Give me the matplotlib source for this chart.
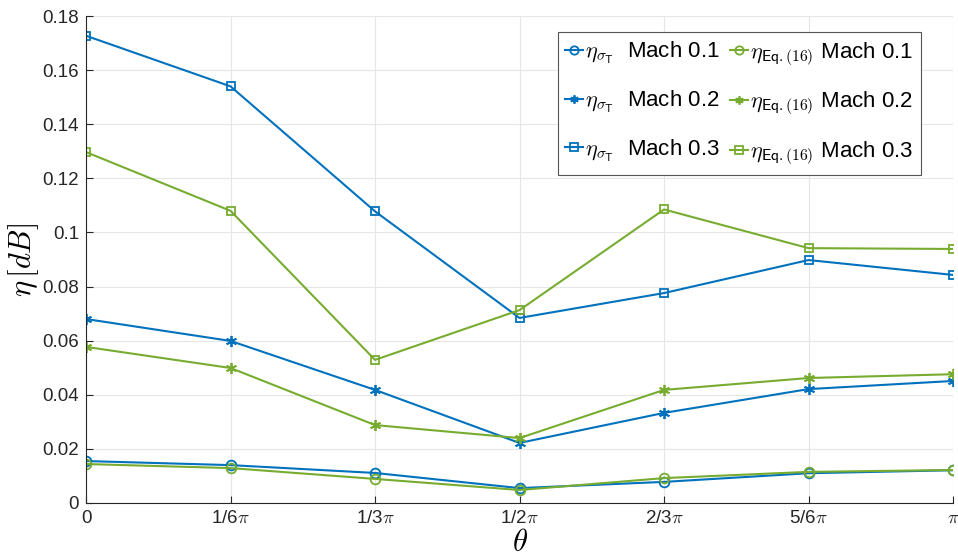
import numpy as np
import matplotlib
matplotlib.use("Agg")
import matplotlib.pyplot as plt

plt.rcParams['font.family'] = ['Liberation Sans', 'DejaVu Sans']
plt.rcParams['mathtext.fontset'] = 'cm'

# x positions in units of pi
theta = [0, 1/6, 1/3, 1/2, 2/3, 5/6, 1]
tick_labels = ['0', '1/6$\\pi$', '1/3$\\pi$', '1/2$\\pi$', '2/3$\\pi$', '5/6$\\pi$', '$\\pi$']

# eta_sigma_T
sig_m01 = [0.0155, 0.0140, 0.0111, 0.0055, 0.0078, 0.0110, 0.0121]
sig_m02 = [0.0680, 0.0599, 0.0418, 0.0222, 0.0333, 0.0421, 0.0451]
sig_m03 = [0.1727, 0.1540, 0.1078, 0.0684, 0.0776, 0.0898, 0.0843]

# eta_Eq.(16)
eq_m01 = [0.0144, 0.0129, 0.0089, 0.0048, 0.0092, 0.0115, 0.0122]
eq_m02 = [0.0577, 0.0499, 0.0288, 0.0240, 0.0418, 0.0462, 0.0476]
eq_m03 = [0.1297, 0.1080, 0.0529, 0.0713, 0.1085, 0.0942, 0.0939]

blue = '#0072BD'
green = '#77AC30'
asterisk = (6, 2, 0)

fig = plt.figure(figsize=(9.58, 5.6), dpi=100)
ax = fig.add_axes([0.0898, 0.1018, 0.905, 0.8696])

lab_s = r'$\eta_{\sigma_{\mathsf{T}}}$'
lab_e = r'$\eta_{\mathsf{Eq.(16)}}$'

ax.plot(theta, sig_m01, '-', marker='o', color=blue, lw=1.5, ms=7, mfc='none', mew=1.3, label=lab_s + '  Mach 0.1')
ax.plot(theta, sig_m02, '-', marker=asterisk, color=blue, lw=1.5, ms=8, mew=1.3, label=lab_s + '  Mach 0.2')
ax.plot(theta, sig_m03, '-', marker='s', color=blue, lw=1.5, ms=6, mfc='none', mew=1.3, label=lab_s + '  Mach 0.3')
ax.plot(theta, eq_m01, '-', marker='o', color=green, lw=1.5, ms=7, mfc='none', mew=1.3, label=lab_e + ' Mach 0.1')
ax.plot(theta, eq_m02, '-', marker=asterisk, color=green, lw=1.5, ms=8, mew=1.3, label=lab_e + ' Mach 0.2')
ax.plot(theta, eq_m03, '-', marker='s', color=green, lw=1.5, ms=6, mfc='none', mew=1.3, label=lab_e + ' Mach 0.3')

ax.set_xlim(0, 1)
ax.set_ylim(0, 0.18)
ax.set_xticks(theta)
ax.set_xticklabels(tick_labels)
ax.set_yticks(np.arange(0, 0.181, 0.02))
ax.set_yticklabels(['0', '0.02', '0.04', '0.06', '0.08', '0.1', '0.12', '0.14', '0.16', '0.18'])
ax.tick_params(direction='in', labelsize=13.5, colors='#262626', length=5, pad=5)
ax.grid(True, color='#e6e6e6', lw=0.8)
ax.set_axisbelow(True)
for s in ['top', 'right']:
    ax.spines[s].set_visible(False)
for s in ['left', 'bottom']:
    ax.spines[s].set_color('#262626')
    ax.spines[s].set_linewidth(0.8)

ax.set_xlabel(r'$\theta$', fontsize=22, labelpad=1)
ax.set_ylabel(r'$\eta\,[dB]$', fontsize=22, labelpad=1)

leg = ax.legend(ncol=2, loc='upper left', bbox_to_anchor=(0.544, 0.967), fontsize=16,
                handlelength=0.8, handletextpad=0.1, columnspacing=0.45,
                labelspacing=1.0, borderpad=0.35, fancybox=False, framealpha=1,
                edgecolor='#555555', borderaxespad=0)
for h in leg.legend_handles:
    h.set_markersize(6)
leg.get_frame().set_linewidth(0.8)

fig.savefig('out.png', dpi=100)
